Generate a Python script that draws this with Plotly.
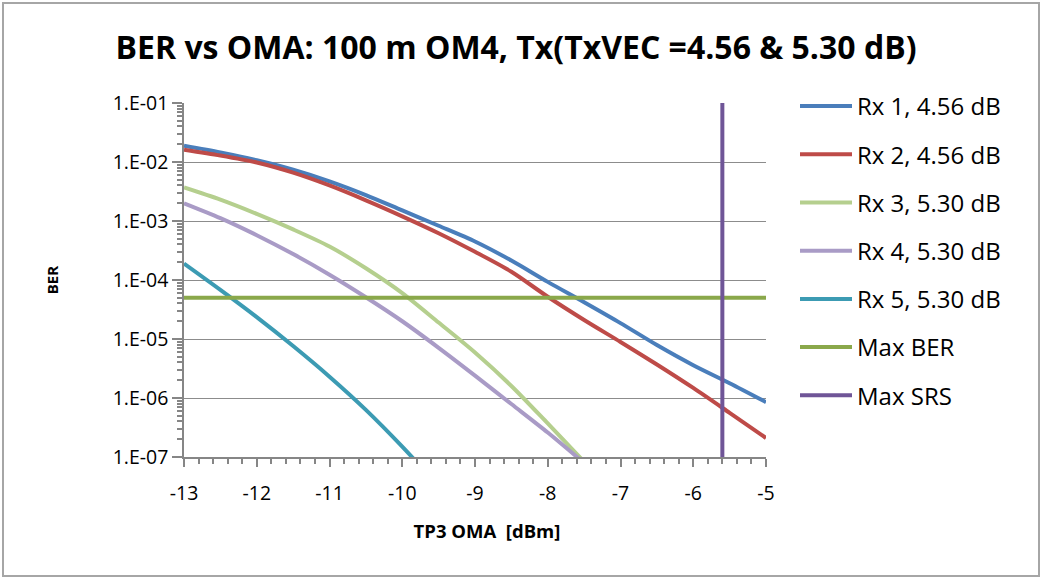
import plotly.graph_objects as go

# TP3 OMA sweep points (dBm)
oma_dbm = [-13.0, -12.5, -12.0, -11.5, -11.0, -10.5, -10.0, -9.5, -9.0,
           -8.5, -8.0, -7.5, -7.0, -6.5, -6.0, -5.5, -5.0]

# Measured BER per receiver
rx1_ber = [1.88e-2, 1.45e-2, 1.07e-2, 7.4e-3, 4.7e-3, 2.75e-3, 1.51e-3, 8.3e-4, 4.5e-4,
           2.14e-4, 9.3e-5, 4.2e-5, 1.86e-5, 7.9e-6, 3.6e-6, 1.78e-6, 8.5e-7]
rx2_ber = [1.62e-2, 1.29e-2, 9.8e-3, 6.6e-3, 4.0e-3, 2.24e-3, 1.2e-3, 6.2e-4, 3.0e-4,
           1.38e-4, 5.2e-5, 2.1e-5, 8.9e-6, 3.7e-6, 1.48e-6, 5.6e-7, 2.1e-7]
rx3_ber = [3.7e-3, 2.3e-3, 1.32e-3, 7.2e-4, 3.7e-4, 1.58e-4, 6.0e-5, 1.9e-5, 5.9e-6,
           1.6e-6, 3.7e-7, 8.3e-8]
rx4_ber = [2.0e-3, 1.12e-3, 5.75e-4, 2.75e-4, 1.23e-4, 5.1e-5, 2.0e-5, 7.1e-6, 2.4e-6,
           7.9e-7, 2.6e-7, 7.9e-8]
rx5_ber = [1.9e-4, 6.8e-5, 2.35e-5, 7.6e-6, 2.3e-6, 6.3e-7, 1.5e-7, 3.2e-8]

# Limits
max_ber_x = [-13, -5]
max_ber_y = [5e-5, 5e-5]
max_srs_x = [-5.6, -5.6]
max_srs_y = [1e-7, 1e-1]

y_tick_vals = [1e-1, 1e-2, 1e-3, 1e-4, 1e-5, 1e-6, 1e-7]
y_tick_text = ["1.E-01", "1.E-02", "1.E-03", "1.E-04", "1.E-05", "1.E-06", "1.E-07"]
x_tick_vals = [-13, -12, -11, -10, -9, -8, -7, -6, -5]
x_tick_text = ["-13", "-12", "-11", "-10", "-9", "-8", "-7", "-6", "-5"]

series = [
    ("Rx 1, 4.56 dB", oma_dbm, rx1_ber, "#4A7EBB", "spline"),
    ("Rx 2, 4.56 dB", oma_dbm, rx2_ber, "#BE4B48", "spline"),
    ("Rx 3, 5.30 dB", oma_dbm[:len(rx3_ber)], rx3_ber, "#B5CF8E", "spline"),
    ("Rx 4, 5.30 dB", oma_dbm[:len(rx4_ber)], rx4_ber, "#A99BC6", "spline"),
    ("Rx 5, 5.30 dB", oma_dbm[:len(rx5_ber)], rx5_ber, "#3C9BB3", "spline"),
    ("Max BER", max_ber_x, max_ber_y, "#8AA84B", "linear"),
    ("Max SRS", max_srs_x, max_srs_y, "#6F5597", "linear"),
]

FONT = "'Open Sans', sans-serif"

fig = go.Figure()
for i, (name, xs, ys, color, shape) in enumerate(series):
    fig.add_trace(go.Scatter(
        x=xs, y=ys, name=name, mode="lines",
        line=dict(color=color, width=4, shape=shape, smoothing=0.8),
        legendgroup=f"g{i}",
    ))

L, R, T, B = 184, 276, 103, 123
W, H = 1042, 580
pw, ph = W - L - R, H - T - B

fig.update_layout(
    width=W, height=H,
    margin=dict(l=L, r=R, t=T, b=B, autoexpand=False),
    paper_bgcolor="white", plot_bgcolor="white",
    font=dict(family=FONT, size=16, color="#000000"),
    title=dict(text="<b>BER vs OMA: 100 m OM4, Tx(TxVEC =4.56 &amp; 5.30 dB)</b>",
               x=516 / W, xanchor="center", y=1 - 48 / H, yanchor="middle",
               font=dict(size=32, family=FONT, color="#000000")),
    showlegend=True,
    legend=dict(x=1 + (795 - (L + pw)) / pw, xanchor="left",
                y=(T + ph - 251) / ph, yanchor="middle",
                traceorder="grouped", tracegroupgap=14,
                font=dict(size=24, family=FONT, color="#000000"),
                bgcolor="rgba(0,0,0,0)", itemwidth=52),
)

fig.update_xaxes(
    range=[-13, -5], tickvals=x_tick_vals, ticktext=x_tick_text,
    showgrid=False, zeroline=False,
    showline=True, linecolor="#868686", linewidth=1.5,
    ticks="outside", ticklen=8, tickcolor="#868686", tickwidth=1.5,
    ticklabelstandoff=10,
    tickfont=dict(size=19.5, family=FONT, color="#000000"),
    minor=dict(ticks="outside", ticklen=5, tickcolor="#868686", dtick=0.2, showgrid=False),
    title=dict(text="<b>\u00a0\u00a0\u00a0\u00a0\u00a0TP3 OMA\u00a0 [dBm]</b>", standoff=20,
               font=dict(size=18.5, family=FONT, color="#000000")),
)
fig.update_yaxes(
    type="log", range=[-7, -1], tickvals=y_tick_vals, ticktext=y_tick_text,
    showgrid=True, gridcolor="#8C8C8C", gridwidth=1.2,
    zeroline=False,
    showline=True, linecolor="#868686", linewidth=1.5,
    ticks="outside", ticklen=10, tickcolor="#868686", tickwidth=1.5,
    tickfont=dict(size=19.5, family=FONT, color="#000000"),
    minor=dict(ticks="outside", ticklen=5, tickcolor="#868686", dtick="D1", showgrid=False),
    title=dict(text="<b>BER</b>", standoff=50,
               font=dict(size=15, family=FONT, color="#000000")),
)

# Chart outer frame
fig.add_shape(type="rect", xref="paper", yref="paper",
              x0=(3 - L) / pw, x1=(1039 - L) / pw,
              y0=1 - (576 - T) / ph, y1=1 - (3 - T) / ph,
              line=dict(color="#A6A6A6", width=2), layer="below")

fig.write_html("out.html")
